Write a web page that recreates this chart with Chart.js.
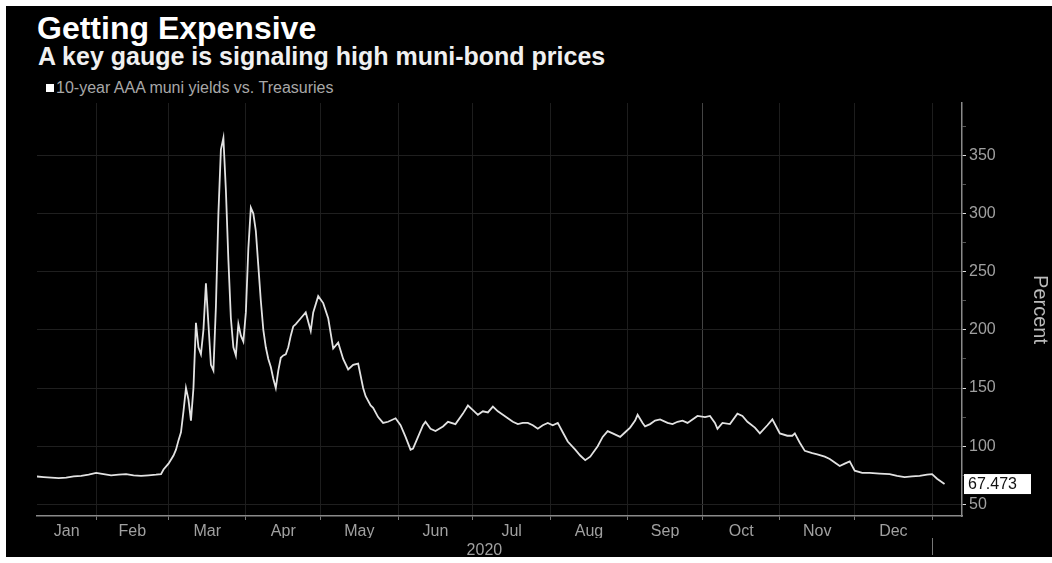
<!DOCTYPE html>
<html lang="en">
<head>
<meta charset="UTF-8">
<title>Getting Expensive</title>
<script src="https://cdn.jsdelivr.net/npm/chart.js@4.4.1/dist/chart.umd.min.js"></script>
<style>
  html, body { margin: 0; padding: 0; background: #fff; }
  body { width: 1052px; height: 563px; position: relative; overflow: hidden; font-family: "Liberation Sans", Arial, sans-serif; }
  .moldura { position: absolute; left: 6px; top: 6px; right: 0; bottom: 6px; background: #000; }
  .texto { position: absolute; line-height: 1; white-space: nowrap; }
  .titulo { left: 37px; top: 12px; font-size: 32px; font-weight: bold; color: #fff; }
  .subtitulo { left: 38px; top: 44px; font-size: 25px; font-weight: bold; color: #f0f0f0; }
  .legenda { left: 56px; top: 80px; font-size: 16px; color: #a8a8a8; }
  .quadrado { position: absolute; left: 46px; top: 84px; width: 8px; height: 8px; background: #fff; }
  #grafico-box { position: absolute; left: 0; top: 0; width: 1052px; height: 563px; }
</style>
</head>
<body>
<div class="moldura"></div>
<div class="texto titulo">Getting Expensive</div>
<div class="texto subtitulo">A key gauge is signaling high muni-bond prices</div>
<div class="quadrado"></div>
<div class="texto legenda">10-year AAA muni yields vs. Treasuries</div>
<div id="grafico-box"><canvas id="grafico"></canvas></div>

<script>
// Dados (dia do ano de 2020, 0 = 1 de janeiro)
const dias = [7, 10, 13, 16, 19, 22, 25, 28, 31, 34, 37, 40, 43, 46, 49, 52, 55, 57, 58, 60, 62, 63,
  64, 65, 66, 67, 68, 69, 70, 71, 72, 73, 74, 75, 76, 77, 78, 79, 80, 81, 82, 83, 84, 85, 86, 87, 88, 89, 90,
  91, 92, 93, 94, 95, 96, 97, 98, 99, 100, 101, 102, 103, 104, 105, 106, 107, 108, 109, 110, 111, 113, 115,
  117, 118, 120, 122, 124, 126, 128, 130, 132, 134, 136, 138, 139, 141, 142, 144, 146, 148, 151, 153, 155,
  157, 158, 160, 162, 163, 165, 167, 170, 172, 175, 178, 180, 182, 184, 186, 188, 190, 192, 194, 196, 198,
  200, 202, 204, 206, 208, 210, 212, 214, 216, 218, 220, 223, 225, 227, 229, 232, 234, 236, 238, 241, 243,
  245, 247, 248, 250, 251, 253, 255, 257, 260, 262, 264, 266, 268, 270, 272, 275, 277, 279, 280, 282, 285,
  288, 290, 292, 295, 297, 300, 302, 304, 305, 308, 310, 311, 313, 315, 318, 320, 323, 325, 327, 329, 331,
  333, 335, 338, 341, 345, 349, 352, 355, 358, 361, 364, 366, 368, 370, 371];
const valores = [74, 73.5, 73, 72.5, 73, 74, 74.5, 75.5, 77, 76, 75, 75.5, 76, 75, 74.5, 75, 75.5, 76, 80, 85, 92, 97,
  105, 112, 130, 150, 140, 122, 150, 206, 185, 179, 200, 240, 205, 170, 165, 220, 300, 355, 365, 320, 260, 210, 185, 178, 205, 195, 190,
  215, 270, 305, 300, 285, 255, 225, 200, 185, 175, 168, 158, 150, 165, 176, 178, 179, 185, 195, 203, 205, 210, 215,
  199, 215, 229, 223, 210, 184, 189, 175, 166, 170, 171, 150, 143, 135, 133, 125, 120, 121, 124, 118, 108,
  97, 98, 108, 118, 121, 115, 113, 117, 121, 119, 128, 135, 131, 127, 130, 129, 134, 130, 127, 124, 121,
  119, 120, 120, 118, 115, 118, 120, 118, 120, 112, 104, 97, 92, 88, 91, 100, 108, 113, 111, 108, 112,
  116, 122, 127, 120, 117, 119, 122, 123, 120, 119, 121, 122, 120, 123, 126, 125, 126, 120, 115, 120, 119,
  128, 126, 121, 116, 111, 118, 123, 115, 111, 109, 109, 111, 103, 96, 94, 93, 91, 89, 86, 83, 85,
  87, 79, 77, 77, 76.5, 76, 74.5, 73.5, 74, 74.5, 75.5, 76, 72, 69, 67.473];

// Eixo X: início de cada mês (linhas de grade) e meio do mês visível (rótulos)
const inicioMes = [31, 60, 91, 121, 152, 182, 213, 244, 274, 305, 335, 366];
const meioMes = [19.2, 45.5, 75.5, 106, 136.5, 167, 197.5, 228.5, 259, 289.5, 320, 350.5];
const nomesMes = ['Jan', 'Feb', 'Mar', 'Apr', 'May', 'Jun', 'Jul', 'Aug', 'Sep', 'Oct', 'Nov', 'Dec'];
const anoPos = [186.6, 366];
const anoRotulos = ['2020', ''];
const xMin = 7.3;
const xMax = 378;

// Eixo Y
const ticksY = [50, 75, 100, 125, 150, 175, 200, 225, 250, 275, 300, 325, 350, 375];
const yMin = 40;
const yMax = 395;

const todosX = inicioMes.concat(meioMes).sort((a, b) => a - b);

Chart.defaults.font.family = '"Liberation Sans", Arial, sans-serif';

// Caixa branca com o último valor, presa ao eixo Y
const ultimoValor = {
    id: 'ultimoValor',
    afterDraw(chart) {
        const ctx = chart.ctx;
        const v = valores[valores.length - 1];
        const y = chart.scales.y.getPixelForValue(v);
        const x = chart.scales.y.left + 2;
        ctx.save();
        ctx.fillStyle = '#fff';
        ctx.fillRect(x, y - 10, 67, 20);
        ctx.fillStyle = '#111';
        ctx.font = '16px "Liberation Sans"';
        ctx.textBaseline = 'middle';
        ctx.fillText(v.toFixed(3), x + 4, y + 1);
        ctx.restore();
    }
};

function corGradeX(ctx) {
    if (!ctx.tick) return 'rgba(0,0,0,0)';
    const v = ctx.tick.value;
    if (inicioMes.indexOf(v) < 0) return 'rgba(0,0,0,0)';
    return v === 274 ? '#444444' : '#1d1d1d';
}

new Chart(document.getElementById('grafico'), {
    type: 'line',
    data: {
        datasets: [{
            label: '10-year AAA muni yields vs. Treasuries',
            data: dias.map((d, i) => ({ x: d, y: valores[i] })),
            borderColor: '#e2e2e2',
            borderWidth: 1.8,
            pointRadius: 0,
            tension: 0,
            xAxisID: 'x',
            yAxisID: 'y'
        }]
    },
    options: {
        responsive: true,
        maintainAspectRatio: false,
        animation: false,
        layout: { padding: { left: 37, top: 103, right: 0, bottom: 6 } },
        plugins: {
            legend: { display: false },
            tooltip: { enabled: false }
        },
        scales: {
            x: {
                type: 'linear',
                position: 'bottom',
                weight: 1,
                min: xMin,
                max: xMax,
                afterBuildTicks: axis => { axis.ticks = todosX.map(v => ({ value: v })); },
                afterFit: axis => { axis.height = 22; },
                ticks: {
                    autoSkip: false,
                    maxRotation: 0,
                    color: '#a0a0a0',
                    font: { size: 16 },
                    padding: 2,
                    callback: v => {
                        const i = meioMes.indexOf(v);
                        return i >= 0 ? nomesMes[i] : '';
                    }
                },
                grid: {
                    color: corGradeX,
                    tickColor: ctx => (ctx.tick && inicioMes.indexOf(ctx.tick.value) >= 0) ? '#777' : 'rgba(0,0,0,0)',
                    tickLength: 4
                },
                border: { color: '#8a8a8a', width: 1.5 }
            },
            ano: {
                type: 'linear',
                position: 'bottom',
                weight: 2,
                min: xMin,
                max: xMax,
                afterBuildTicks: axis => { axis.ticks = anoPos.map(v => ({ value: v })); },
                afterFit: axis => { axis.height = 19; },
                ticks: {
                    autoSkip: false,
                    maxRotation: 0,
                    color: '#a0a0a0',
                    font: { size: 16 },
                    padding: -14,
                    callback: (v, i) => anoRotulos[i]
                },
                grid: {
                    drawOnChartArea: false,
                    tickLength: 17,
                    tickColor: ctx => (ctx.tick && ctx.tick.value === 366) ? '#777' : 'rgba(0,0,0,0)'
                },
                border: { display: false }
            },
            y: {
                position: 'right',
                min: yMin,
                max: yMax,
                afterBuildTicks: axis => { axis.ticks = ticksY.map(v => ({ value: v })); },
                afterFit: axis => { axis.width = 90; },
                ticks: {
                    color: '#a0a0a0',
                    font: { size: 16 },
                    padding: 3,
                    callback: v => (v % 50 === 0 ? v : '')
                },
                grid: {
                    color: ctx => (ctx.tick && ctx.tick.value % 50 === 0) ? '#1f1f1f' : 'rgba(0,0,0,0)',
                    tickColor: ctx => (ctx.tick && ctx.tick.value % 50 === 0) ? '#dddddd' : '#555',
                    tickLength: 4
                },
                border: { color: '#8a8a8a', width: 1.5 },
                title: {
                    display: true,
                    text: 'Percent',
                    color: '#bbbbbb',
                    font: { size: 20 },
                    padding: { top: 0, bottom: 0 }
                }
            }
        }
    },
    plugins: [ultimoValor]
});
</script>
</body>
</html>
